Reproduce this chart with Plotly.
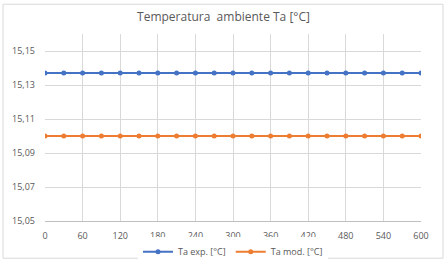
import plotly.graph_objects as go

time_s = list(range(0, 601, 30))
ta_exp = [15.137] * 21
ta_mod = [15.100] * 21
x_ticks = list(range(0, 601, 60))
y_ticks = [15.05, 15.07, 15.09, 15.11, 15.13, 15.15]

W, H = 447, 278
L, R, T, B = 45, 26, 34, 43

fig = go.Figure()
fig.add_trace(go.Scatter(x=time_s, y=ta_exp, mode="lines+markers", name="Ta exp. [°C]",
                         line=dict(color="#4472C4", width=2), marker=dict(size=5, color="#4472C4")))
fig.add_trace(go.Scatter(x=time_s, y=ta_mod, mode="lines+markers", name="Ta mod. [°C]",
                         line=dict(color="#ED7D31", width=2), marker=dict(size=5, color="#ED7D31")))

pw = W - L - R
ph = H - T - B
fig.add_shape(type="rect", xref="paper", yref="paper",
              x0=(3 - L) / pw, x1=(443 - L) / pw,
              y0=(H - 275 - B) / ph, y1=(H - 2 - B) / ph,
              line=dict(color="#D9D9D9", width=1), layer="below")

fig.update_layout(
    width=W, height=H,
    margin=dict(l=L, r=R, t=T, b=B),
    paper_bgcolor="white", plot_bgcolor="white",
    separators=",.",
    font=dict(family="Open Sans, Liberation Sans, sans-serif", size=9, color="#595959"),
    title=dict(text="Temperatura  ambiente Ta [°C]", x=0.5, xanchor="center",
               y=1 - 17 / H, yanchor="middle", font=dict(size=12, color="#595959")),
    showlegend=True,
    legend=dict(orientation="h", x=0.5, xanchor="center", y=-(268 - (H - B)) / ph, yanchor="middle",
                font=dict(size=9, color="#595959"), itemwidth=30),
    xaxis=dict(range=[0, 600], tickvals=x_ticks, showgrid=True, gridcolor="#D9D9D9", gridwidth=1,
               showline=True, linecolor="#BFBFBF", zeroline=False, ticks="", ticklen=0,
               ticklabelstandoff=6),
    yaxis=dict(range=[15.05, 15.16], tickvals=y_ticks, tickformat=".2f", showgrid=True,
               gridcolor="#D9D9D9", gridwidth=1, zeroline=False, showline=False, ticks="",
               ticklabelstandoff=9),
)

fig.write_html("out.html")
